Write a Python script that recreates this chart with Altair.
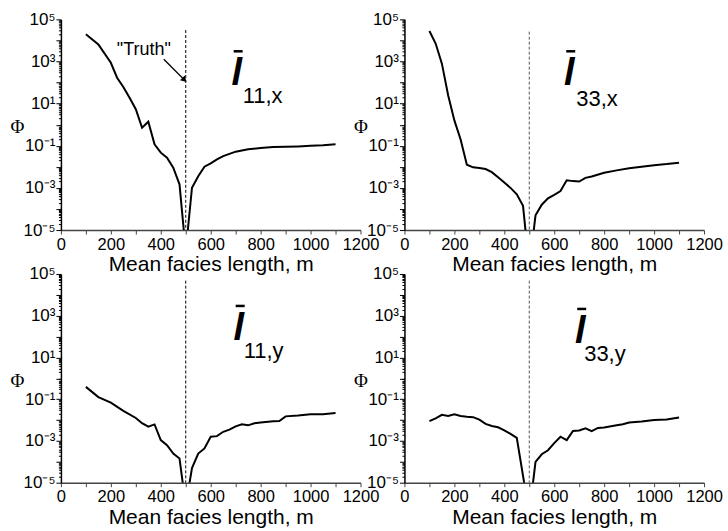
import altair as alt
import pandas as pd

TRUTH = 500

# l11,x
x_11x = [100, 150, 200, 225, 250, 275, 300, 325, 350, 375, 400, 425, 450, 475, 500,
         525, 550, 575, 600, 625, 650, 700, 750, 800, 850, 900, 950, 1000, 1050, 1100]
phi_11x = [1.95e4, 6.5e3, 8.7e2, 1.7e2, 62, 19, 5.4, 0.72, 1.38, 0.117, 0.047, 0.027, 0.0091, 0.00148, 1e-6,
           0.00102, 0.0036, 0.0102, 0.0145, 0.0224, 0.0324, 0.0525, 0.0676, 0.0776, 0.087, 0.089, 0.093, 0.10, 0.105, 0.117]

# l33,x
x_33x = [100, 125, 150, 175, 200, 225, 250, 275, 300, 325, 350, 375, 400, 425, 450, 475, 500,
         525, 550, 575, 600, 625, 650, 675, 700, 725, 750, 800, 850, 900, 950, 1000, 1050, 1100]
phi_33x = [2.8e4, 7.1e3, 7.9e2, 25, 1.6, 0.2, 0.0126, 0.0095, 0.0089, 0.0079, 0.0056, 0.0032, 0.0018, 0.001,
           5.0e-4, 1.4e-4, 1.6e-7, 5.0e-5, 1.6e-4, 3.2e-4, 4.7e-4, 7.1e-4, 2.3e-3, 2.1e-3, 2.0e-3, 3.0e-3,
           3.5e-3, 5.2e-3, 6.8e-3, 8.5e-3, 0.010, 0.012, 0.0135, 0.0158]

# l11,y
x_11y = [100, 150, 200, 250, 300, 325, 350, 375, 400, 425, 450, 475, 500, 525, 550, 575, 600,
         625, 650, 675, 700, 725, 750, 775, 800, 850, 875, 900, 950, 1000, 1050, 1100]
phi_11y = [0.39, 0.126, 0.068, 0.0275, 0.0126, 0.0071, 0.0048, 0.0062, 0.0011, 6.3e-4, 2.5e-4, 1.45e-4, 8e-7,
           5.0e-5, 2.5e-4, 4.4e-4, 1.6e-3, 1.7e-3, 2.75e-3, 3.5e-3, 5.0e-3, 6.3e-3, 5.6e-3, 7.1e-3, 7.6e-3,
           8.7e-3, 9.1e-3, 0.0151, 0.0166, 0.019, 0.019, 0.0219]

# l33,y
x_33y = [100, 125, 150, 175, 200, 225, 250, 275, 300, 325, 350, 375, 400, 425, 450, 500, 525, 550,
         575, 600, 625, 650, 675, 700, 725, 750, 775, 800, 850, 875, 900, 950, 1000, 1050, 1100]
phi_33y = [8.9e-3, 0.012, 0.0178, 0.0158, 0.019, 0.0158, 0.0145, 0.0138, 0.0105, 0.0066, 0.0052, 0.0045,
           0.0032, 0.0022, 0.0014, 3.2e-7, 1.0e-4, 2.3e-4, 3.6e-4, 7.9e-4, 1.6e-3, 1.1e-3, 3.0e-3, 3.2e-3,
           4.0e-3, 2.95e-3, 4.2e-3, 4.4e-3, 5.6e-3, 6.3e-3, 7.6e-3, 8.5e-3, 0.010, 0.0107, 0.0132]

subscripts = ["11,x", "33,x", "11,y", "33,y"]
truth_top = [3.1e4, 2.6e4, 4.8e4, 4.8e4]

W = 300
HEIGHTS = [211, 211, 209, 209]
FONT = "Liberation Sans"

Y_TICKS = [k * 10.0 ** n for n in range(-5, 5) for k in range(1, 10)] + [1e5]
EXP = "round(log(datum.value)/LN10)"
IS_DEC = f"abs(log(datum.value)/LN10 - {EXP}) < 1e-6"
LABEL_EXPR = (f"{IS_DEC} ? ({EXP} == 5 ? '10⁵' : {EXP} == 3 ? '10³' : {EXP} == 1 ? '10¹' : "
              f"{EXP} == -1 ? '10⁻¹' : {EXP} == -3 ? '10⁻³' : {EXP} == -5 ? '10⁻⁵' : '') : ''")

x_scale = alt.Scale(domain=[0, 1200], nice=False, zero=False)
y_scale = alt.Scale(type="log", domain=[1e-5, 1e5], nice=False)

x_axis = alt.Axis(values=list(range(0, 1201, 100)), format="d",
                  labelExpr="datum.value % 200 == 0 ? datum.label : ''",
                  tickSize=4, tickColor="#444", domainColor="#444", domainWidth=1.5,
                  labelFont=FONT, labelFontSize=16.5, labelColor="black", labelPadding=2,
                  labelFlush=False, labelOverlap=False, grid=False,
                  title="Mean facies length, m", titleFont=FONT, titleFontSize=21,
                  titleFontWeight="normal", titleColor="black", titlePadding=1)

y_axis = alt.Axis(values=Y_TICKS, labelExpr=LABEL_EXPR,
                  tickSize={"condition": {"test": IS_DEC, "value": 5}, "value": 2.5},
                  tickColor="black", domainColor="black", domainWidth=1.5,
                  labelFont=FONT, labelFontSize=17, labelColor="black", labelPadding=1,
                  labelOverlap=False, grid=False,
                  title="Φ", titleAngle=0, titleFont="Liberation Serif", titleFontSize=19,
                  titleFontWeight="normal", titleColor="black", titleX=-44, titleY=107,
                  titleAlign="center", titleBaseline="middle")

# label placement per panel: (l center x, sub x, sub baseline, bar y)
label_pos = [(176, 182, 84, 32), (165, 172, 87, 32), (178, 183, 84, 32), (176, 180, 87, 35)]
dash_colors = ["black", "#555", "black", "#555"]


def panel(xs, phis, i):
    df = pd.DataFrame({"x": xs, "phi": phis})
    line = alt.Chart(df).mark_line(color="black", strokeWidth=2, clip=True).encode(
        x=alt.X("x:Q", scale=x_scale, axis=x_axis),
        y=alt.Y("phi:Q", scale=y_scale, axis=y_axis),
    )
    tdf = pd.DataFrame({"x": [TRUTH], "phi": [truth_top[i]], "phi2": [1e-5]})
    rule = alt.Chart(tdf).mark_rule(color=dash_colors[i], strokeWidth=1, strokeDash=[3, 2]).encode(
        x=alt.X("x:Q", scale=x_scale, axis=x_axis),
        y=alt.Y("phi:Q", scale=y_scale, axis=y_axis),
        y2="phi2:Q",
    )
    lx, sx, sy, by = label_pos[i]
    one = pd.DataFrame({"t": ["l"]})
    ell = alt.Chart(one).mark_text(font=FONT, fontStyle="italic", fontWeight="bold", fontSize=38,
                                   align="center", baseline="alphabetic", color="black").encode(
        text="t:N", x=alt.value(lx), y=alt.value(by + 34))
    bar = alt.Chart(one).mark_rule(color="black", strokeWidth=2.5).encode(
        x=alt.value(lx - 3), x2=alt.value(lx + 6), y=alt.value(by))
    sdf = pd.DataFrame({"t": [subscripts[i]]})
    sub = alt.Chart(sdf).mark_text(font=FONT, fontSize=22, align="left", baseline="alphabetic",
                                   color="black").encode(
        text="t:N", x=alt.value(sx), y=alt.value(sy))
    layers = [line, rule, ell, bar, sub]
    if i == 0:
        tr = pd.DataFrame({"t": ['"Truth"']})
        ttxt = alt.Chart(tr).mark_text(font=FONT, fontSize=18, align="center", baseline="alphabetic",
                                       color="black").encode(
            text="t:N", x=alt.value(83), y=alt.value(36))
        arr = alt.Chart(tr).mark_rule(color="black", strokeWidth=1.3).encode(
            x=alt.value(103), y=alt.value(40), x2=alt.value(122), y2=alt.value(59))
        head = alt.Chart(tr).mark_point(shape="triangle", filled=True, color="black", size=45,
                                        angle=135, opacity=1).encode(
            x=alt.value(123), y=alt.value(60))
        layers += [ttxt, arr, head]
    return alt.layer(*layers).properties(width=W, height=HEIGHTS[i])


chart = alt.concat(
    panel(x_11x, phi_11x, 0),
    panel(x_33x, phi_33x, 1),
    panel(x_11y, phi_11y, 2),
    panel(x_33y, phi_33y, 3),
    columns=2, spacing=44, bounds="flush",
).properties(
    padding={"left": 10, "top": 10, "right": 5, "bottom": 3},
    background="white",
).configure_view(stroke=None)

chart.save("out.html", embed_options={"renderer": "svg", "actions": False})
